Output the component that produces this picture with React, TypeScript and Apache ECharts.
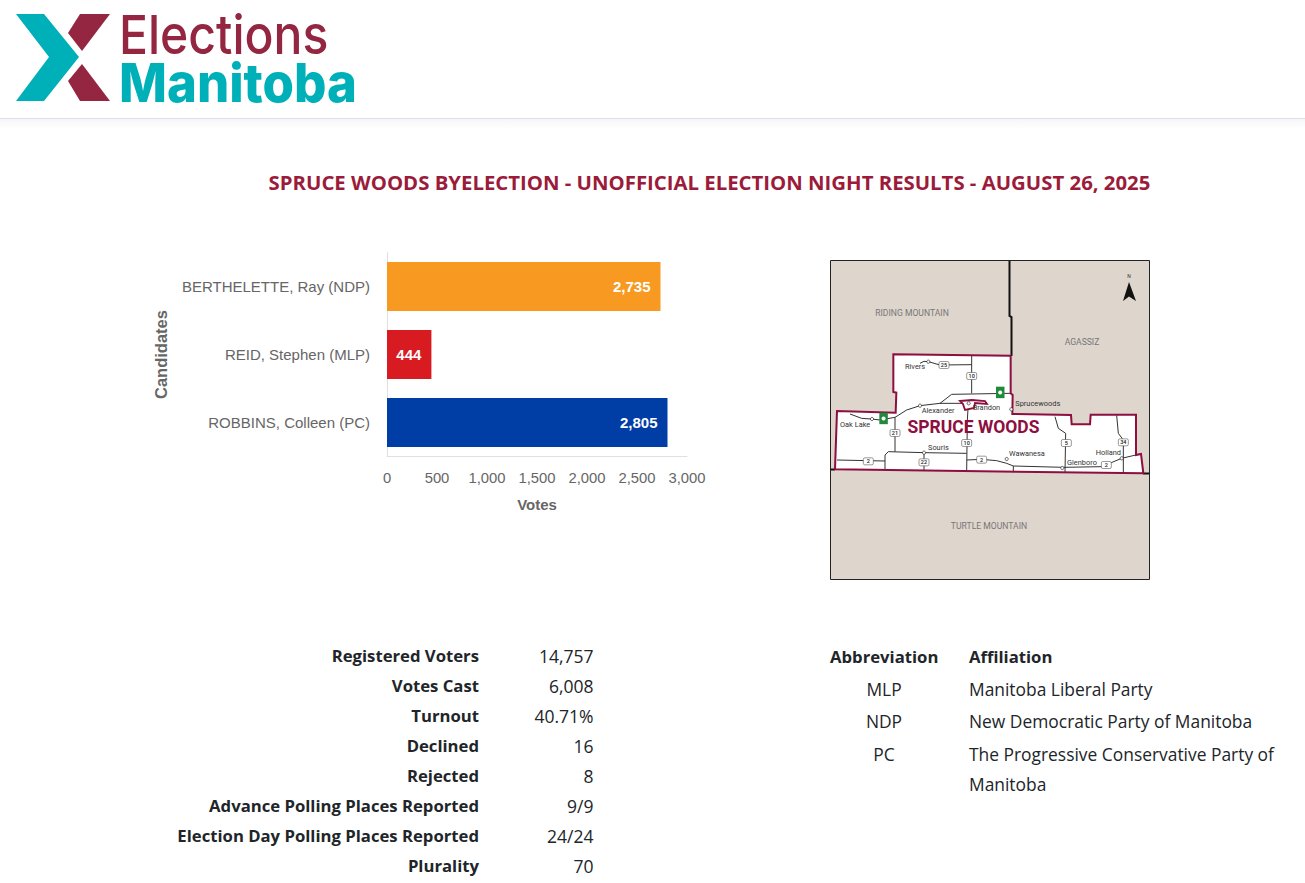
import React, { useEffect, useRef } from "react";
import * as echarts from "echarts";

const categories = ["BERTHELETTE, Ray (NDP)", "REID, Stephen (MLP)", "ROBBINS, Colleen (PC)"];
const votes = [2735, 444, 2805];
const barColors = ["#F89A22", "#D81B20", "#003DA5"];
const statLabels = ["Registered Voters", "Votes Cast", "Turnout", "Declined", "Rejected", "Advance Polling Places Reported", "Election Day Polling Places Reported", "Plurality"];
const statValues = ["14,757", "6,008", "40.71%", "16", "8", "9/9", "24/24", "70"];
const abbreviations = ["MLP", "NDP", "PC"];
const affiliations = [["Manitoba Liberal Party"], ["New Democratic Party of Manitoba"], ["The Progressive Conservative Party of", "Manitoba"]];
const title = "SPRUCE WOODS BYELECTION - UNOFFICIAL ELECTION NIGHT RESULTS - AUGUST 26, 2025";

const FONT = '"Open Sans", sans-serif';
const ARIAL = '"Liberation Sans", Arial, sans-serif';
const MAP = "Roboto, sans-serif";
const RED = "#8C0F3F";

// zoomed-crop coordinates of the map's lower part -> page
const mx = (x: number) => 825 + x / 3;
const my = (y: number) => 340 + y / 3;
const pts = (a: number[][]) => a.map(([x, y]) => [mx(x), my(y)]);

const roads = [
  [[285, 70], [297, 64], [310, 65], [345, 75], [440, 74]],
  [[440, 47], [440, 160]],
  [[210, 232], [245, 210], [285, 197], [345, 190], [380, 163], [555, 160]],
  [[345, 190], [430, 190]],
  [[430, 190], [427, 240], [425, 395]],
  [[75, 222], [110, 235], [140, 237], [165, 240], [210, 232]],
  [[210, 232], [210, 335]],
  [[36, 360], [180, 363]],
  [[180, 390], [180, 345], [190, 335], [297, 338], [425, 340]],
  [[297, 338], [297, 393]],
  [[425, 360], [470, 358], [515, 362], [545, 370], [565, 378], [715, 382], [830, 380], [890, 355], [945, 342]],
  [[565, 378], [565, 397]],
  [[690, 230], [700, 265], [722, 280], [720, 397]],
  [[875, 226], [880, 280], [895, 300], [895, 398]],
];
const outline = [[205, 43], [557, 47], [557, 160], [563, 165], [562, 222], [738, 225], [740, 253], [795, 253], [797, 224], [933, 224], [933, 345], [948, 342], [955, 400], [30, 388], [36, 213], [212, 218], [214, 158], [205, 156]];
const brandon = [[405, 183], [441, 180], [480, 183], [486, 192], [450, 189], [447, 204], [420, 210], [414, 192]];
const shields: [number, number, string][] = [[357, 75, "25"], [440, 108, "10"], [210, 279, "21"], [130, 364, "2"], [297, 367, "22"], [425, 309, "10"], [470, 359, "2"], [724, 309, "5"], [844, 375, "2"], [895, 307, "34"]];
const towns: [number, number, string, number, number][] = [
  [240, 78, "Rivers", 310, 65], [290, 212, "Alexander", 285, 197], [45, 253, "Oak Lake", 141, 237],
  [443, 201, "Brandon", 431, 190], [571, 191, "Sprucewoods", 559, 208], [309, 322, "Souris", 297, 338],
  [552, 341, "Wawanesa", 545, 357], [726, 367, "Glenboro", 712, 384], [812, 338, "Holland", 890, 355],
];
const parks = [[163, 218], [513, 140]];

function t(text: string, x: number, y: number, font: string, fill: string, textAlign = "left", extra: any = {}) {
  return { type: "text", silent: true, ...extra, style: { text, x, y, font, fill, textAlign, textVerticalAlign: "middle" } };
}

function buildGraphic() {
  const g: any[] = [];
  const poly = (points: number[][], fill: string) => ({ type: "polygon", silent: true, shape: { points }, style: { fill } });
  const line = (points: number[][], stroke: string, lineWidth: number) => ({ type: "polyline", silent: true, shape: { points }, style: { stroke, lineWidth, fill: "none" } });

  // header
  g.push({ type: "rect", silent: true, shape: { x: 0, y: 118, width: 1305, height: 1 }, style: { fill: "#DFE0E5" } });
  g.push({ type: "rect", silent: true, shape: { x: 0, y: 119, width: 1305, height: 10 }, style: { fill: new echarts.graphic.LinearGradient(0, 0, 0, 1, [{ offset: 0, color: "#F6F6F8" }, { offset: 1, color: "#FFFFFF" }]) } });
  g.push(poly([[16, 14], [44, 14], [79, 57], [44, 101], [16, 101], [49, 57]], "#00B0B9"));
  g.push(poly([[80, 14], [110, 14], [82, 51], [68, 33]], "#942641"));
  g.push(poly([[68, 81], [82, 64], [110, 101], [80, 101]], "#942641"));
  g.push({ type: "text", silent: true, x: 119, y: 33.5, scaleX: 0.89, style: { text: "Elections", x: 0, y: 0, font: '500 54px Inter, sans-serif', fill: "#942641", textAlign: "left", textVerticalAlign: "middle" } });
  g.push({ type: "text", silent: true, x: 119, y: 82, scaleX: 0.942, style: { text: "Manitoba", x: 0, y: 0, font: '800 54px Inter, sans-serif', fill: "#00B0B9", textAlign: "left", textVerticalAlign: "middle" } });

  // title
  g.push(t(title, 709.5, 181.5, `700 20.35px ${FONT}`, "#9B1C3A", "center"));

  // map
  g.push({ type: "rect", silent: true, shape: { x: 830.5, y: 260.5, width: 319, height: 319 }, style: { fill: "#DED5CD", stroke: "#222", lineWidth: 1 } });
  g.push(line([[1009.5, 261], [1009.5, 316], [1011.5, 317], [1011.5, 356]], "#111", 2));
  g.push(line([[831, 469.5], [835, 469.5]], "#111", 2));
  g.push(line([[1143, 473.5], [1149, 473.5]], "#111", 2));
  g.push(poly(pts(outline), "#FFFFFF"));
  roads.forEach((r) => g.push(line(pts(r), "#333", 1)));
  g.push({ type: "polygon", silent: true, shape: { points: pts(brandon) }, style: { fill: "#FFFFFF", stroke: RED, lineWidth: 1.8 } });
  g.push({ type: "polygon", silent: true, shape: { points: pts(outline) }, style: { fill: "none", stroke: RED, lineWidth: 2 } });
  parks.forEach(([x, y]) => {
    g.push({ type: "rect", silent: true, shape: { x: mx(x), y: my(y), width: 8.5, height: 11.5 }, style: { fill: "#1E8A3A" } });
    g.push({ type: "circle", silent: true, shape: { cx: mx(x) + 4.2, cy: my(y) + 5.8, r: 2 }, style: { fill: "#FFFFFF" } });
  });
  shields.forEach(([x, y, s]) => {
    g.push({ type: "rect", silent: true, shape: { x: mx(x) - 5, y: my(y) - 3.5, width: 10, height: 7, r: 1.5 }, style: { fill: "#FFF", stroke: "#555", lineWidth: 0.6 } });
    g.push(t(s, mx(x), my(y), `500 5.5px ${MAP}`, "#222", "center"));
  });
  towns.forEach(([x, y, s, cx, cy]) => {
    g.push({ type: "circle", silent: true, shape: { cx: mx(cx), cy: my(cy), r: 1.6 }, style: { fill: "#FFF", stroke: "#222", lineWidth: 0.7 } });
    g.push(t(s, mx(x), my(y), `400 7.4px ${MAP}`, "#333"));
  });
  g.push(t("SPRUCE WOODS", 973.5, 427, `700 17.5px ${MAP}`, RED, "center"));
  g.push(t("RIDING MOUNTAIN", 912, 312.5, `400 8.6px ${MAP}`, "#777", "center"));
  g.push(t("AGASSIZ", 1082, 341.5, `400 8.6px ${MAP}`, "#777", "center"));
  g.push(t("TURTLE MOUNTAIN", 989, 526, `400 8.6px ${MAP}`, "#777", "center"));
  g.push(t("N", 1129, 275.5, `400 5px ${MAP}`, "#333", "center"));
  g.push(poly([[1129, 282], [1136, 301], [1129, 296.5], [1123, 301]], "#111"));

  // stats
  statLabels.forEach((s, i) => {
    const y = 655.5 + i * 30;
    g.push(t(s, 479, y, `700 16.7px ${FONT}`, "#212529", "right"));
    g.push(t(statValues[i], 593.5, y, `400 17.5px ${FONT}`, "#212529", "right"));
  });

  // parties
  g.push(t("Abbreviation", 830, 656, `700 16.7px ${FONT}`, "#212529"));
  g.push(t("Affiliation", 969, 656, `700 16.7px ${FONT}`, "#212529"));
  const rowY = [689, 721, 754];
  abbreviations.forEach((a, i) => {
    g.push(t(a, 884, rowY[i], `400 17.4px ${FONT}`, "#212529", "center"));
    affiliations[i].forEach((l, j) => g.push(t(l, 969, rowY[i] + j * 30, `400 17.4px ${FONT}`, "#212529")));
  });
  return g;
}

export default function App() {
  const ref = useRef<HTMLDivElement>(null);
  useEffect(() => {
    const chart = echarts.init(ref.current!, undefined, { renderer: "svg" });
    chart.setOption({
      animation: false,
      backgroundColor: "#FFFFFF",
      grid: { left: 387, top: 252.5, width: 300, height: 204, containLabel: false },
      xAxis: {
        type: "value", min: 0, max: 3000, interval: 500,
        name: "Votes", nameLocation: "middle", nameGap: 40,
        nameTextStyle: { fontFamily: ARIAL, fontSize: 15, fontWeight: "bold", color: "#666" },
        axisLine: { show: true, lineStyle: { color: "#E0E0E0" } },
        axisTick: { show: false }, splitLine: { show: false },
        axisLabel: { margin: 13.5, fontFamily: ARIAL, fontSize: 14.8, color: "#666", hideOverlap: false, showMinLabel: true, showMaxLabel: true, formatter: (v: number) => v.toLocaleString("en-US") },
      },
      yAxis: {
        type: "category", inverse: true, data: categories,
        name: "Candidates", nameLocation: "middle", nameGap: 218, nameRotate: 90,
        nameTextStyle: { fontFamily: ARIAL, fontSize: 16.5, fontWeight: "bold", color: "#666" },
        axisLine: { show: true, lineStyle: { color: "#E0E0E0" } },
        axisTick: { show: false },
        axisLabel: { margin: 17, fontFamily: ARIAL, fontSize: 15, color: "#666", padding: [0, 0, 4, 0] },
      },
      series: [{
        type: "bar", barWidth: 49,
        data: votes.map((v, i) => ({ value: v, itemStyle: { color: barColors[i] } })),
        label: { show: true, position: "insideRight", distance: 10, fontFamily: ARIAL, fontSize: 15, fontWeight: "bold", color: "#FFF", padding: [0, 0, 2, 0], formatter: (p: any) => Number(p.value).toLocaleString("en-US") },
      }],
      graphic: { elements: buildGraphic() },
    });
    return () => chart.dispose();
  }, []);
  return <div ref={ref} style={{ position: "absolute", left: 0, top: 0, width: 1305, height: 883 }} />;
}
